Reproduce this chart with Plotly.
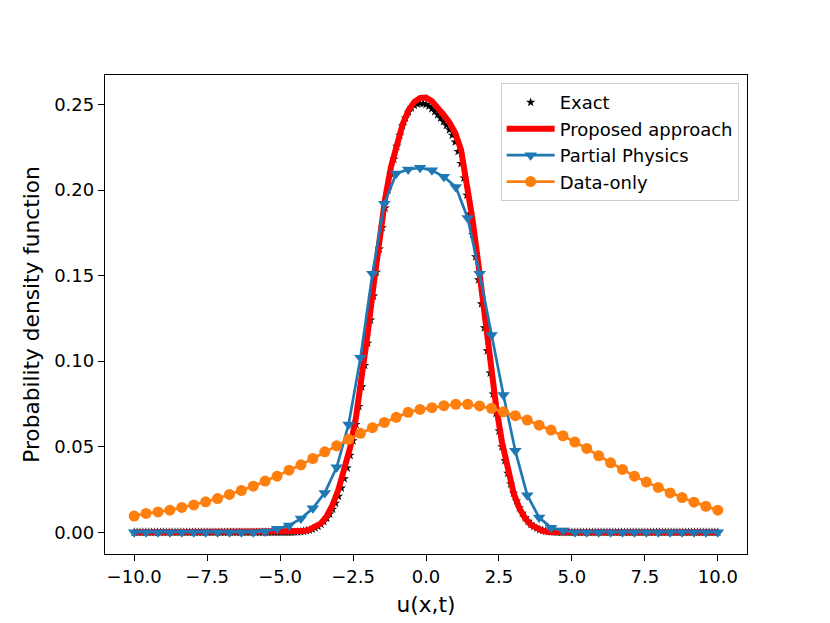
import numpy as np
import plotly.graph_objects as go

# ── data ─────────────────────────────────────────────────────────────────────
# exact pdf: dense grid (dx = 0.1) on [-10, 10]; only the core [-4.5, 4.5] is non-zero
X_EXACT = np.linspace(-10, 10, 201)
EXACT_CORE = [
    0.0001, 0.0002, 0.0004, 0.0006, 0.0009, 0.0013, 0.0019, 0.0026, 0.0035, 0.0047,
    0.0062, 0.0082, 0.0106, 0.0135, 0.0170, 0.0210, 0.0258, 0.0313, 0.0376, 0.0450,
    0.0535, 0.0630, 0.0735, 0.0850, 0.0975, 0.1105, 0.1240, 0.1380, 0.1520, 0.1655,
    0.1780, 0.1895, 0.2000, 0.2095, 0.2180, 0.2255, 0.2320, 0.2375, 0.2420, 0.2455,
    0.2480, 0.2495, 0.2503, 0.2506, 0.2505, 0.2500, 0.2490, 0.2475, 0.2458, 0.2440,
    0.2420, 0.2400, 0.2378, 0.2352, 0.2320, 0.2280, 0.2225, 0.2155, 0.2070, 0.1970,
    0.1860, 0.1740, 0.1610, 0.1475, 0.1335, 0.1195, 0.1060, 0.0930, 0.0808, 0.0695,
    0.0592, 0.0500, 0.0418, 0.0345, 0.0282, 0.0228, 0.0182, 0.0143, 0.0111, 0.0085,
    0.0064, 0.0047, 0.0034, 0.0024, 0.0016, 0.0011, 0.0007, 0.0004, 0.0002, 0.0001,
    0.0000,
]
exact = [0.0] * 55 + EXACT_CORE + [0.0] * 55

# proposed approach: dx = 0.2 on [-10, 10]; core [-4.6, 4.6]
X_PROP = np.linspace(-10, 10, 101)
PROP_CORE = [
    0.0001, 0.0003, 0.0007, 0.0015, 0.0029, 0.0052, 0.0095, 0.0160, 0.0250, 0.0360,
    0.0495, 0.0670, 0.0900, 0.1160, 0.1440, 0.1710, 0.1950, 0.2135, 0.2275, 0.2385,
    0.2465, 0.2515, 0.2538, 0.2540, 0.2520, 0.2485, 0.2440, 0.2395, 0.2335, 0.2235,
    0.2050, 0.1820, 0.1560, 0.1280, 0.1000, 0.0740, 0.0530, 0.0360, 0.0230, 0.0140,
    0.0080, 0.0042, 0.0020, 0.0008, 0.0002, 0.0000, 0.0000,
]
proposed = [0.0] * 27 + PROP_CORE + [0.0] * 27

# partial physics and data-only: 50 points on [-10, 10]
X50 = np.linspace(-10, 10, 50)
partial = [
    0.0, 0.0, 0.0, 0.0, 0.0, 0.0, 0.0, 0.0, 0.0, 0.0,
    0.0, 0.0005, 0.002, 0.004, 0.008, 0.014, 0.023, 0.038, 0.063, 0.102,
    0.151, 0.192, 0.2096, 0.212, 0.213, 0.2115, 0.2077, 0.2018, 0.1837, 0.151,
    0.1153, 0.0802, 0.0476, 0.0217, 0.0086, 0.0027, 0.001, 0.0, 0.0, 0.0,
    0.0, 0.0, 0.0, 0.0, 0.0, 0.0, 0.0, 0.0, 0.0, 0.0,
]
data_only = [
    0.0095, 0.0110, 0.0119, 0.0129, 0.0145, 0.0160, 0.0178, 0.0197, 0.0221, 0.0244,
    0.0269, 0.0299, 0.0328, 0.0363, 0.0394, 0.0431, 0.0470, 0.0505, 0.0543, 0.0578,
    0.0611, 0.0642, 0.0672, 0.0701, 0.0718, 0.0728, 0.0740, 0.0748, 0.0748, 0.0738,
    0.0724, 0.0704, 0.0681, 0.0656, 0.0626, 0.0597, 0.0564, 0.0527, 0.0490, 0.0447,
    0.0406, 0.0367, 0.0328, 0.0293, 0.0262, 0.0230, 0.0203, 0.0176, 0.0152, 0.0129,
]

X_TICKS = [-10.0, -7.5, -5.0, -2.5, 0.0, 2.5, 5.0, 7.5, 10.0]
Y_TICKS = [0.00, 0.05, 0.10, 0.15, 0.20, 0.25]

# ── figure ────────────────────────────────────────────────────────────────────
fig = go.Figure()

fig.add_trace(go.Scatter(
    x=X_EXACT, y=exact, mode="markers", name="Exact",
    marker=dict(symbol="star", size=7, color="black", line=dict(width=0)),
))
fig.add_trace(go.Scatter(
    x=X_PROP, y=proposed, mode="lines", name="Proposed approach",
    line=dict(color="#ff0000", width=6),
))
fig.add_trace(go.Scatter(
    x=X50, y=partial, mode="lines+markers", name="Partial Physics",
    line=dict(color="#1f77b4", width=2.7),
    marker=dict(symbol="triangle-down", size=11, color="#1f77b4"),
))
fig.add_trace(go.Scatter(
    x=X50, y=data_only, mode="lines+markers", name="Data-only",
    line=dict(color="#ff7f0e", width=2.7),
    marker=dict(symbol="circle", size=11, color="#ff7f0e"),
))

axis_common = dict(
    showline=True, mirror=True, linecolor="black", linewidth=1.3,
    ticks="outside", ticklen=6, tickwidth=1.3, tickcolor="black",
    showgrid=False, zeroline=False,
    tickfont=dict(size=18, color="black"),
)

fig.update_xaxes(
    range=[-11, 11], tickvals=X_TICKS, tickformat=".1f",
    title=dict(text="u(x,t)", font=dict(size=21.7, color="black"), standoff=11),
    **axis_common,
)
fig.update_yaxes(
    range=[-0.0127, 0.2672], tickvals=Y_TICKS, tickformat=".2f",
    title=dict(text="Probability density function", font=dict(size=21.7, color="black"), standoff=8),
    **axis_common,
)

# the page body adds ~8 px of offset, so margins are shifted to compensate
fig.update_layout(
    width=830, height=623,
    margin=dict(l=97, r=91, t=67, b=77),
    plot_bgcolor="white", paper_bgcolor="white",
    font=dict(family="DejaVu Sans", size=18, color="black"),
    legend=dict(
        x=0.987, y=0.983, xanchor="right", yanchor="top",
        bgcolor="rgba(255,255,255,0.8)", bordercolor="#cccccc", borderwidth=1,
        font=dict(size=18), itemwidth=48,
    ),
    showlegend=True,
)

fig.write_html("out.html")
